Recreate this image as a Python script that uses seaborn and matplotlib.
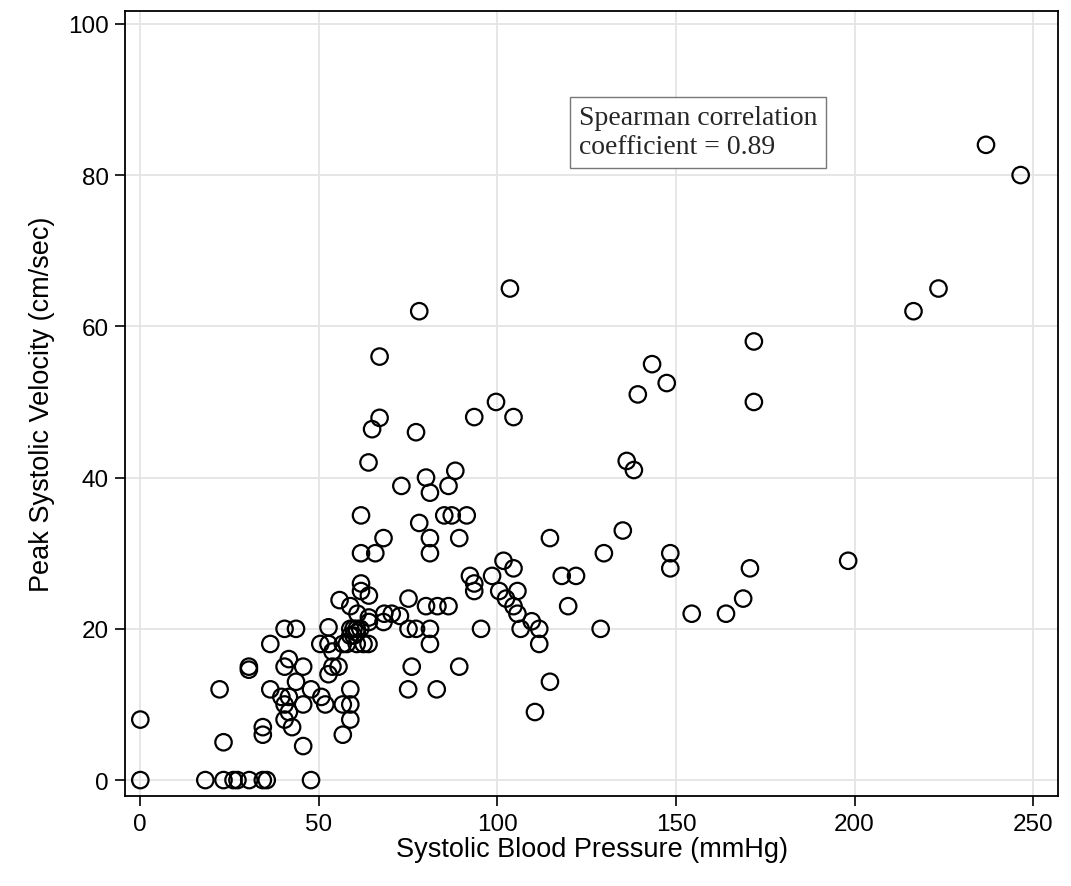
import pandas as pd
import matplotlib
matplotlib.use('Agg')
import matplotlib.pyplot as plt
import seaborn as sns

# Systolic blood pressure (mmHg) and peak systolic velocity (cm/sec)
sbp = [0, 0, 18.2, 22.2, 23.3, 23.3, 26.1, 27.2, 30.5, 34.3, 35.4, 47.8,
       30.4, 30.4, 34.3, 34.3, 36.4, 36.4, 40.4, 43.6, 41.6, 40.4, 45.6, 43.6,
       39.5, 41.6, 40.4, 41.6, 40.4, 42.5, 45.6, 45.6, 47.8, 50.7, 51.8, 56.7,
       58.8, 58.8, 58.8, 56.7, 52.7, 53.8, 55.5, 50.4, 52.7, 53.8, 56.7, 57.8,
       60.6, 62.5, 63.9, 52.7, 58.8, 59.7, 60.6, 61.6, 58.8, 59.7, 60.6, 64.0,
       64.0, 60.8, 58.8, 55.8, 61.8, 61.8, 64.0, 61.8, 65.8, 61.8, 68.1, 63.9,
       64.9, 67.0, 67.0, 77.2, 78.1, 68.3, 70.4, 72.7, 68.1, 75.1, 77.2, 81.1,
       81.1, 75.1, 80.0, 83.2, 86.3, 76.0, 75.0, 83.0, 89.3, 73.1, 80.0, 81.1,
       86.3, 88.2, 78.1, 85.1, 87.2, 91.4, 81.1, 81.1, 89.3, 95.4, 92.3, 93.5,
       93.5, 98.5, 99.6, 93.5, 104.5, 103.5, 101.7, 104.5, 100.5, 105.6, 102.4, 104.5,
       105.6, 109.6, 106.5, 111.7, 111.7, 114.7, 114.7, 110.5, 118.0, 122.0, 119.8, 128.9,
       129.8, 135.1, 136.2, 138.2, 139.3, 143.3, 147.4, 148.4, 148.4, 154.4, 164.0, 168.8,
       170.7, 171.8, 171.8, 198.2, 216.5, 223.5, 236.8, 246.5]
psv = [0, 8, 0, 12, 5, 0, 0, 0, 0, 0, 0, 0,
       15, 14.6, 7, 6, 18, 12, 20, 20, 16, 15, 15, 13,
       11, 11, 10, 9, 8, 7, 10, 4.5, 12, 11, 10, 10,
       10, 12, 8, 6, 14, 15, 15, 18, 18, 17, 18, 18,
       18, 18, 18, 20.2, 20, 20, 20, 20, 19.1, 19.1, 19.5, 21.5,
       20.9, 22, 23, 23.8, 26, 25, 24.4, 30, 30, 35, 32, 42,
       46.4, 47.9, 56, 46, 62, 22, 22, 21.7, 20.9, 20, 20, 20,
       18, 24, 23, 23, 23, 15, 12, 12, 15, 38.9, 40, 38,
       38.9, 40.9, 34, 35, 35, 35, 32, 30, 32, 20, 27, 26,
       25, 27, 50, 48, 48, 65, 29, 28, 25, 25, 24, 23,
       22, 21, 20, 20, 18, 32, 13, 9, 27, 27, 23, 20,
       30, 33, 42.2, 41, 51, 55, 52.5, 30, 28, 22, 22, 24,
       28, 50, 58, 29, 62, 65, 84, 80]

df = pd.DataFrame({'sbp': sbp, 'psv': psv})

sns.set_theme(style="whitegrid")
plt.rcParams['font.family'] = ['Liberation Sans', 'DejaVu Sans']

fig = plt.figure(figsize=(10.71, 8.87), dpi=100)
ax = fig.add_axes([0.117, 0.1015, 0.871, 0.885])

sns.scatterplot(data=df, x='sbp', y='psv', ax=ax, s=140, marker='o',
                facecolor='none', edgecolor='black', linewidth=1.6)

ax.set_xlim(-4.2, 257)
ax.set_ylim(-2.1, 101.7)
ax.set_xticks([0, 50, 100, 150, 200, 250])
ax.set_yticks([0, 20, 40, 60, 80, 100])
ax.grid(True, color='#e4e4e4', linewidth=1.3)
for sp in ax.spines.values():
    sp.set_edgecolor('black')
    sp.set_linewidth(1.3)
ax.tick_params(axis='both', which='major', direction='out', length=7, width=1.2,
               color='black', labelsize=17.5, labelcolor='black', pad=5,
               bottom=True, left=True)

ax.set_xlabel('Systolic Blood Pressure (mmHg)', fontsize=19.5, labelpad=1, color='black')
ax.set_ylabel('Peak Systolic Velocity (cm/sec)', fontsize=19.5, labelpad=9, color='black')

ax.text(0.486, 0.88, 'Spearman correlation\ncoefficient = 0.89', transform=ax.transAxes,
        ha='left', va='top', fontsize=20, family='Liberation Serif', linespacing=1.22,
        bbox=dict(boxstyle='square,pad=0.3', facecolor='white', edgecolor='#777777', linewidth=1))

plt.savefig('out.png', dpi=100)
